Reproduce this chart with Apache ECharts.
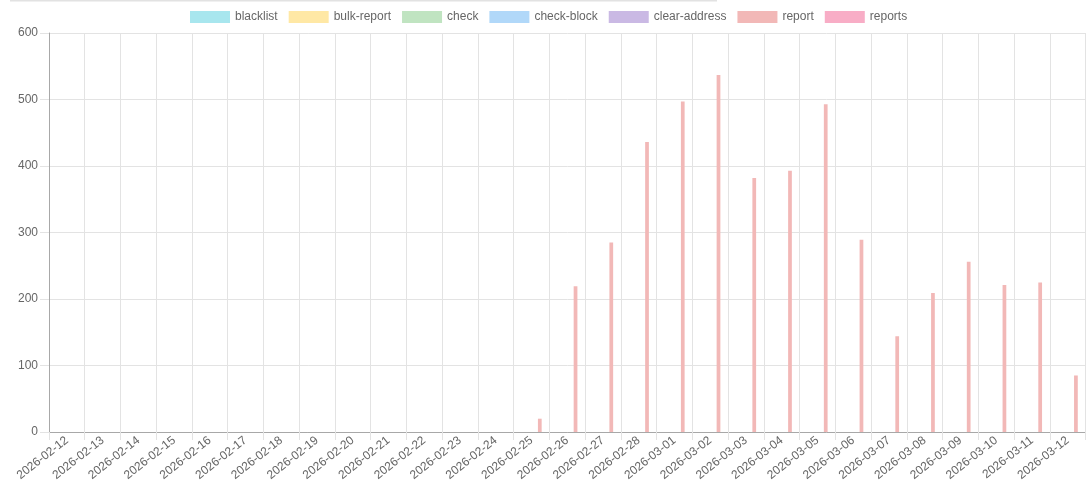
<!DOCTYPE html>
<html>
<head>
<meta charset="utf-8">
<script src="https://cdn.jsdelivr.net/npm/echarts@6/dist/echarts.min.js"></script>
<style>
html,body{margin:0;padding:0;background:#fff;}
#c{width:1088px;height:493px;}
</style>
</head>
<body>
<div id="c"></div>
<script>
const categories = ['2026-02-12','2026-02-13','2026-02-14','2026-02-15','2026-02-16','2026-02-17','2026-02-18','2026-02-19','2026-02-20','2026-02-21','2026-02-22','2026-02-23','2026-02-24','2026-02-25','2026-02-26','2026-02-27','2026-02-28','2026-03-01','2026-03-02','2026-03-03','2026-03-04','2026-03-05','2026-03-06','2026-03-07','2026-03-08','2026-03-09','2026-03-10','2026-03-11','2026-03-12'];
const seriesNames = ['blacklist','bulk-report','check','check-block','clear-address','report','reports'];
const seriesColors = ['#a8e6ee','#ffe8a5','#c0e4c1','#b1d8f9','#cab9e4','#f2b8b7','#f8adc6'];
const blacklist = [];
const bulkReport = [];
const check = [];
const checkBlock = [];
const clearAddress = [];
const report = [null,null,null,null,null,null,null,null,null,null,null,null,null,20,219,285,436,497,537,382,393,493,289,144,209,256,221,225,85];
const reports = [];
const yTicks = [0,100,200,300,400,500,600];

const dataBySeries = [blacklist,bulkReport,check,checkBlock,clearAddress,report,reports];

const chart = echarts.init(document.getElementById('c'), null, {renderer:'canvas'});
const font = 'Liberation Sans, Arial, Helvetica, sans-serif';
chart.setOption({
  animation:false,
  textStyle:{fontFamily:font},
  graphic:[{type:'line',shape:{x1:10,y1:0.5,x2:717,y2:0.5},style:{stroke:'#e2e2e2',lineWidth:2}}],
  legend:{
    top:6,left:185,itemWidth:40,itemHeight:12,itemGap:11,
    icon:'rect',
    textStyle:{color:'#666',fontSize:12,fontFamily:font},
    data:seriesNames
  },
  grid:{left:49,top:33,right:2.5,bottom:61,containLabel:false},
  xAxis:{
    type:'category',data:categories,boundaryGap:true,
    axisLine:{lineStyle:{color:'#a8a8a8'}},
    axisTick:{show:true,length:8,lineStyle:{color:'#e3e3e3'}},
    splitLine:{show:true,lineStyle:{color:'#e3e3e3'}},
    axisLabel:{rotate:38,interval:0,color:'#666',fontSize:12,margin:7,fontFamily:font}
  },
  yAxis:{
    type:'value',min:yTicks[0],max:yTicks[yTicks.length-1],interval:100,
    axisLine:{show:true,lineStyle:{color:'#a8a8a8'}},
    axisTick:{show:true,length:9,lineStyle:{color:'#e3e3e3'}},
    splitLine:{show:true,lineStyle:{color:'#e3e3e3'}},
    axisLabel:{color:'#666',fontSize:12,margin:11,fontFamily:font}
  },
  series:seriesNames.map((n,i)=>({
    name:n,type:'bar',data:dataBySeries[i],
    barCategoryGap:'20%',barGap:'11%',
    itemStyle:{color:seriesColors[i]},
    emphasis:{disabled:true}
  }))
});
</script>
</body>
</html>
